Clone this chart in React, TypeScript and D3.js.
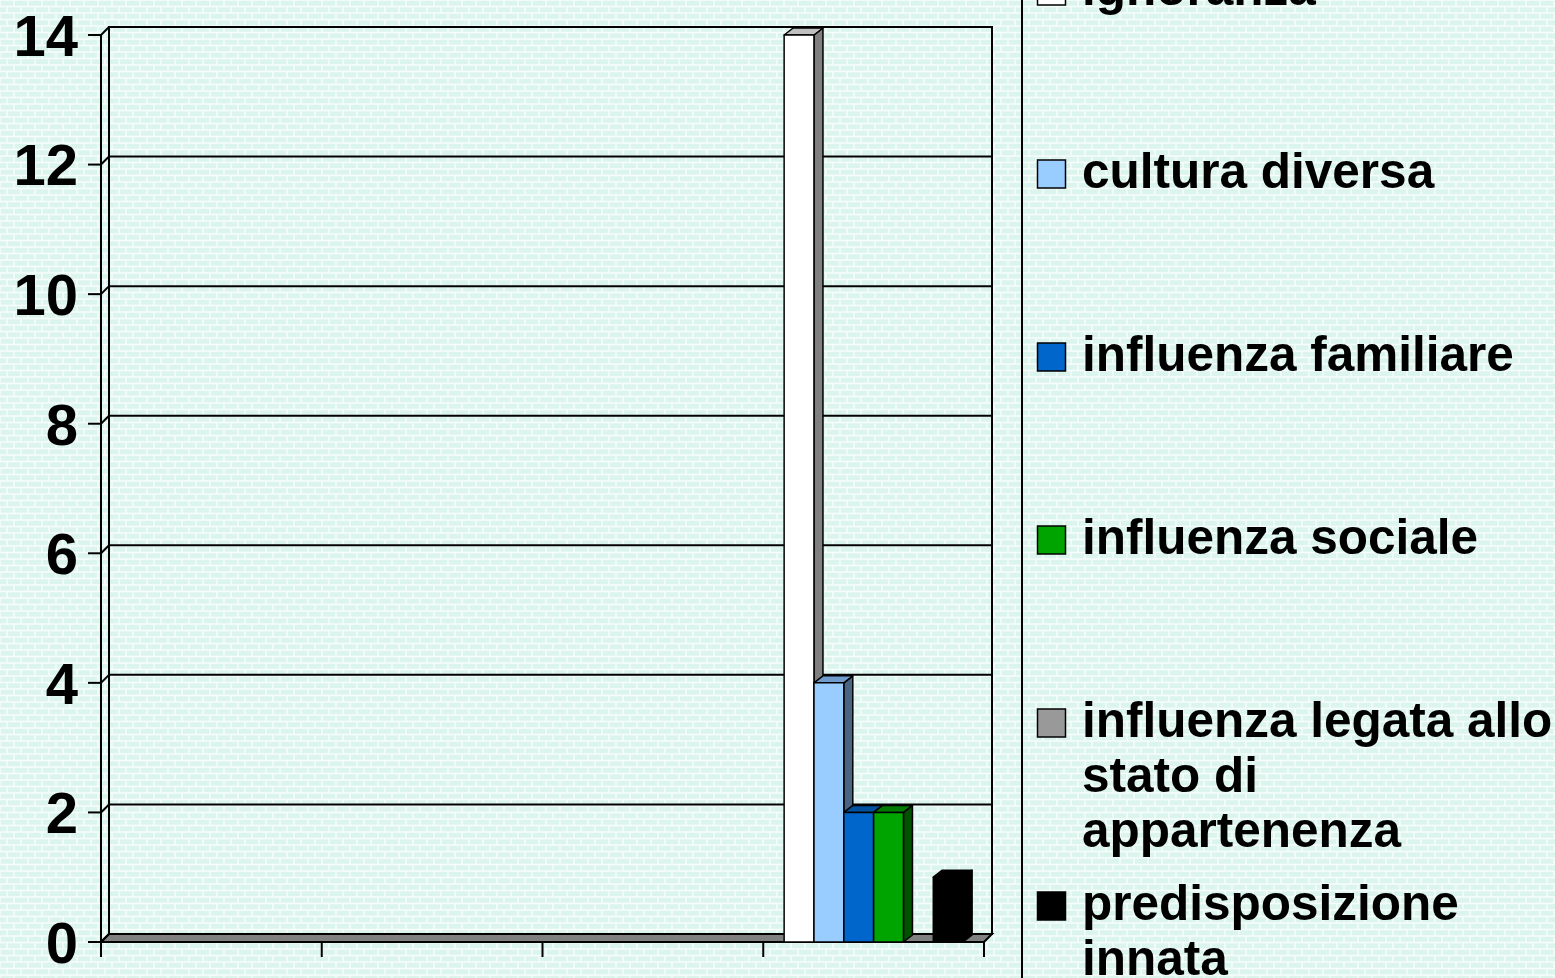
import React from 'react';
import * as d3 from 'd3';

// four category slots, only the last one carries data
const categories = ['c1', 'c2', 'c3', 'c4'];

const seriesNames = [
  ['ignoranza'],
  ['cultura diversa'],
  ['influenza familiare'],
  ['influenza sociale'],
  ['influenza legata allo', 'stato di', 'appartenenza'],
  ['predisposizione', 'innata'],
];

const ignoranza = [null, null, null, 14];
const culturaDiversa = [null, null, null, 4];
const influenzaFamiliare = [null, null, null, 2];
const influenzaSociale = [null, null, null, 2];
const influenzaStato = [null, null, null, 0];
const predisposizione = [null, null, null, 1];

const seriesValues = [ignoranza, culturaDiversa, influenzaFamiliare, influenzaSociale, influenzaStato, predisposizione];

const yTicks = [0, 2, 4, 6, 8, 10, 12, 14];

// front, side, top colours of each series
const frontColors = ['#ffffff', '#99ccff', '#0066cc', '#00a400', '#999999', '#000000'];
const sideColors = ['#808080', '#4a6583', '#003a75', '#005200', '#606060', '#000000'];
const topColors = ['#c0c0c0', '#6f9ccc', '#00529e', '#007a00', '#b0b0b0', '#000000'];

const W = 1555;
const H = 978;
const font = '"Liberation Sans", Arial, sans-serif';

export default function App() {
  const left = 101;
  const right = 984;
  const wallDx = 8;
  const wallDy = 8;
  const barDx = 9;
  const barDy = 7;

  const y = d3.scaleLinear().domain([0, 14]).range([942, 35]);
  const x = d3.scaleBand().domain(categories).range([left, right]).padding(0);
  const inner = d3.scaleBand()
    .domain(d3.range(seriesValues.length).map(String))
    .range([0, x.bandwidth()])
    .paddingInner(0)
    .paddingOuter(0.7);

  const y0 = y(0);
  const bw = inner.bandwidth();

  const bars: React.ReactNode[] = [];
  categories.forEach((c, ci) => {
    seriesValues.forEach((vals, si) => {
      const v = vals[ci];
      if (v == null || v <= 0) return;
      const bx = (x(c) as number) + (inner(String(si)) as number);
      const by = y(v);
      bars.push(
        <g key={`${ci}-${si}`} stroke="#000" strokeWidth={1.5} strokeLinejoin="round">
          <polygon
            points={`${bx + bw},${by} ${bx + bw + barDx},${by - barDy} ${bx + bw + barDx},${y0 - barDy} ${bx + bw},${y0}`}
            fill={sideColors[si]}
          />
          <polygon
            points={`${bx},${by} ${bx + barDx},${by - barDy} ${bx + bw + barDx},${by - barDy} ${bx + bw},${by}`}
            fill={topColors[si]}
          />
          <rect x={bx} y={by} width={bw} height={y0 - by} fill={frontColors[si]} />
        </g>
      );
    });
  });

  const legendStep = 183;
  const legendTop = 5;

  return (
    <svg width={W} height={H} style={{ position: 'absolute', left: 0, top: 0 }}>
      <defs>
        <pattern id="brick" width={14} height={13} patternUnits="userSpaceOnUse">
          <rect width={14} height={13} fill="#f6fdfb" />
          <rect x={0.8} y={0.8} width={12.4} height={4.9} fill="#dbf5ee" />
          <rect x={-6.2} y={7.3} width={12.4} height={4.9} fill="#dbf5ee" />
          <rect x={7.8} y={7.3} width={12.4} height={4.9} fill="#dbf5ee" />
        </pattern>
      </defs>
      <rect width={W} height={H} fill="url(#brick)" />

      {/* floor */}
      <polygon
        points={`${left},${y0} ${left + wallDx},${y0 - wallDy} ${right + wallDx},${y0 - wallDy} ${right},${y0}`}
        fill="#808080"
        stroke="#000"
        strokeWidth={2}
      />

      {/* back wall and gridlines */}
      <rect
        x={left + wallDx}
        y={y(14) - wallDy}
        width={right - left}
        height={y0 - y(14)}
        fill="none"
        stroke="#000"
        strokeWidth={2}
      />
      {yTicks.map(t => (
        <g key={t} stroke="#000" strokeWidth={2}>
          <line x1={left + wallDx} x2={right + wallDx} y1={y(t) - wallDy} y2={y(t) - wallDy} />
          <line x1={left} x2={left + wallDx} y1={y(t)} y2={y(t) - wallDy} />
          <line x1={left - 13} x2={left} y1={y(t)} y2={y(t)} />
        </g>
      ))}

      {/* left wall */}
      <line x1={left} x2={left} y1={y(14)} y2={y0 + 15} stroke="#000" strokeWidth={2} />
      <line x1={left + wallDx} x2={left + wallDx} y1={y(14) - wallDy} y2={y0 - wallDy} stroke="#000" strokeWidth={2} />

      {/* category ticks */}
      {[...categories.map(c => x(c) as number), right].map((tx, i) => (
        <line key={i} x1={tx} x2={tx} y1={y0} y2={y0 + 15} stroke="#000" strokeWidth={2} />
      ))}

      {bars}

      {/* y labels */}
      {yTicks.map(t => (
        <text
          key={t}
          x={78}
          y={y(t)}
          dy="0.36em"
          textAnchor="end"
          fontFamily={font}
          fontWeight="bold"
          fontSize={58}
          fill="#000"
        >
          {t}
        </text>
      ))}

      {/* legend */}
      <line x1={1022} x2={1022} y1={0} y2={H} stroke="#000" strokeWidth={2} />
      {seriesNames.map((lines, i) => {
        const base = legendTop + i * legendStep;
        return (
          <g key={i}>
            <rect x={1037.5} y={base - 28} width={28} height={28} fill={frontColors[i]} stroke="#000" strokeWidth={1.5} />
            <text x={1082} y={base} fontFamily={font} fontWeight="bold" fontSize={49.5} fill="#000">
              {lines.map((l, li) => (
                <tspan key={li} x={1082} y={base + li * 55}>
                  {l}
                </tspan>
              ))}
            </text>
          </g>
        );
      })}
    </svg>
  );
}
